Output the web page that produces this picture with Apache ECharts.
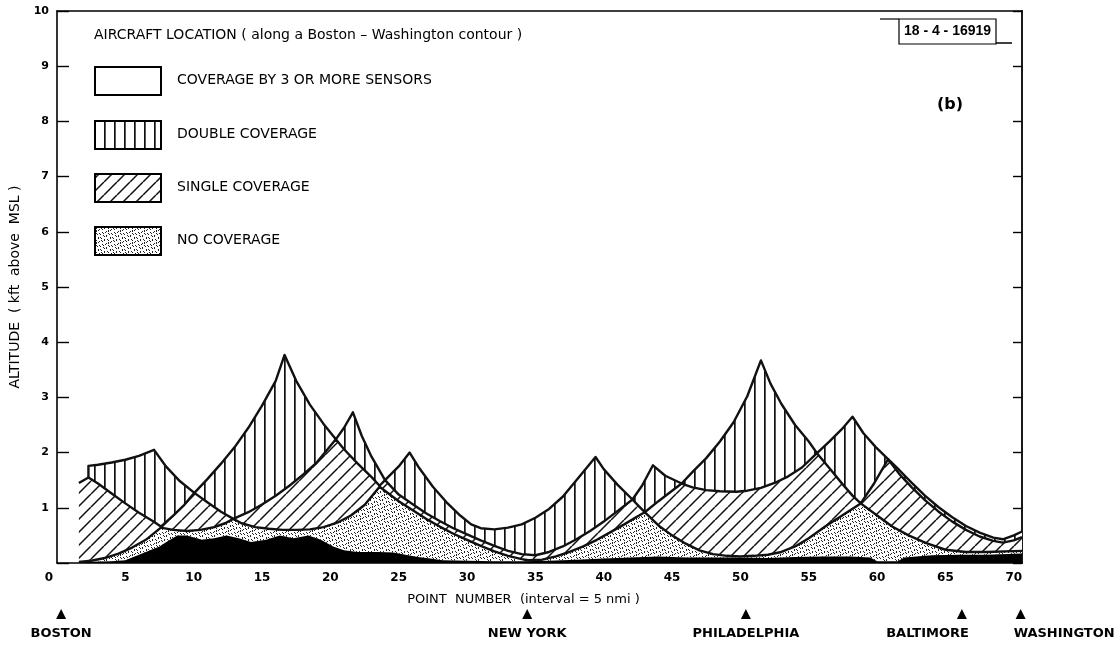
<!DOCTYPE html>
<html><head><meta charset="utf-8">
<script src="https://cdn.jsdelivr.net/npm/echarts@6/dist/echarts.min.js"></script>
<style>html,body{margin:0;padding:0;background:#fff}#c{width:1118px;height:653px}</style>
</head><body><div id="c"></div>
<script>
// ---------- DATA ----------
const xTickLabels = [0,5,10,15,20,25,30,35,40,45,50,55,60,65,70];
const yTickLabels = [1,2,3,4,5,6,7,8,9,10];

// ground profile (black)
const terrain = [[1.6,0.02],[4,0.03],[5,0.05],[6,0.15],[7,0.25],[7.5,0.3],[8,0.38],[8.8,0.5],[9.5,0.5],[10.6,0.42],[11.5,0.45],[12.4,0.5],[13.3,0.45],[14.2,0.38],[15.3,0.42],[16.3,0.5],[17.3,0.45],[18.4,0.5],[19.3,0.42],[20.2,0.3],[21,0.23],[22,0.2],[23.5,0.2],[24.6,0.19],[25.5,0.15],[26.4,0.11],[27.3,0.08],[28.2,0.05],[30,0.04],[32,0.03],[34,0.03],[36,0.04],[38,0.06],[40,0.08],[42,0.1],[44,0.12],[46,0.1],[48,0.1],[50,0.1],[52,0.09],[54,0.11],[56,0.12],[58,0.12],[59.5,0.1],[60,0.03],[61.5,0.03],[62,0.1],[64,0.14],[66,0.15],[68,0.15],[70.6,0.17]];

// lowest coverage altitude (top of NO COVERAGE)
const floor1 = [[1.6,0.02],[2.5,0.04],[3.5,0.09],[4.5,0.17],[5.5,0.28],[6.5,0.42],[7.6,0.64],[8.5,0.6],[9.5,0.58],[10.5,0.6],[11.5,0.65],[12.3,0.72],[12.9,0.8],[13.5,0.72],[14.5,0.65],[15.5,0.62],[16.5,0.6],[17.5,0.6],[18.5,0.61],[19.5,0.65],[20.5,0.73],[21.5,0.86],[22.5,1.05],[23.6,1.38],[24.3,1.25],[25,1.12],[26,0.96],[27,0.8],[28,0.66],[29,0.53],[30,0.42],[31,0.31],[32,0.21],[33,0.13],[34,0.07],[34.5,0.05],[35.5,0.06],[36.5,0.12],[37.5,0.2],[38.5,0.3],[39.5,0.42],[40.5,0.56],[41.5,0.7],[42.3,0.82],[43,0.92],[44,0.68],[45,0.5],[46,0.35],[47,0.23],[48,0.16],[49,0.13],[50,0.12],[51,0.13],[52,0.15],[53,0.2],[54,0.3],[55,0.45],[56.2,0.66],[57.5,0.87],[58.8,1.08],[60,0.86],[61.1,0.66],[62.3,0.5],[63.6,0.36],[65,0.24],[66.5,0.2],[68,0.2],[70.6,0.22]];

// floor of DOUBLE COVERAGE
const floor2 = [[1.6,1.45],[2.3,1.55],[3,1.44],[4,1.26],[5,1.08],[6,0.91],[7,0.76],[7.6,0.66],[8.5,0.86],[9.3,1.05],[10.05,1.27],[11,1.1],[12,0.93],[12.9,0.8],[14,0.92],[15,1.06],[16,1.22],[17,1.4],[18,1.6],[19,1.82],[20.4,2.24],[21,2.06],[22,1.8],[23,1.56],[23.6,1.4],[24,1.5],[25,1.24],[26,1.07],[27,0.9],[28,0.76],[29,0.63],[30,0.52],[31,0.41],[32,0.31],[33,0.22],[34,0.16],[35,0.14],[36,0.2],[37,0.3],[38,0.43],[39,0.58],[40,0.75],[41,0.94],[42.1,1.15],[42.6,1.02],[43,0.92],[44,1.12],[45,1.31],[45.7,1.44],[46.5,1.37],[47.5,1.32],[48.5,1.3],[49.7,1.29],[50.5,1.31],[51.5,1.36],[52.5,1.45],[53.5,1.57],[54.5,1.73],[55.6,1.99],[56.5,1.72],[57.5,1.42],[58.2,1.22],[58.8,1.08],[59.8,1.45],[60.8,1.88],[61.6,1.62],[62.5,1.38],[63.5,1.14],[64.5,0.93],[65.5,0.75],[66.5,0.6],[67.5,0.48],[68.5,0.4],[69.2,0.37],[70,0.41],[70.6,0.47]];

// floor of coverage by 3 or more sensors
const floor3 = [[2.3,1.55],[2.3,1.76],[3,1.78],[4,1.82],[5,1.87],[6,1.94],[7.1,2.05],[8,1.74],[9,1.48],[10.05,1.27],[11,1.52],[12,1.8],[13,2.1],[14,2.45],[15,2.85],[16,3.3],[16.65,3.77],[17.5,3.3],[18.5,2.87],[19.5,2.52],[20.4,2.24],[21,2.45],[21.65,2.73],[22.3,2.3],[23,1.93],[24,1.5],[25,1.75],[25.8,2.0],[26.5,1.72],[27.5,1.38],[28.5,1.1],[29.5,0.86],[30.3,0.7],[31,0.63],[32,0.61],[33,0.64],[34,0.7],[35,0.82],[36,0.98],[37,1.2],[38,1.5],[39.4,1.92],[40,1.7],[41,1.42],[42.1,1.15],[42.8,1.4],[43.6,1.77],[44.5,1.58],[45.7,1.44],[46.5,1.65],[47.5,1.9],[48.5,2.2],[49.5,2.55],[50.5,3.02],[51.5,3.67],[52.2,3.25],[53,2.88],[54,2.5],[55,2.2],[55.6,1.99],[56.5,2.2],[57.4,2.42],[58.2,2.65],[59,2.35],[59.9,2.1],[60.8,1.88],[61.6,1.69],[62.5,1.46],[63.5,1.22],[64.5,1.01],[65.5,0.83],[66.5,0.67],[67.5,0.55],[68.5,0.46],[69.2,0.43],[70,0.5],[70.6,0.57]];

const cityNames = ['BOSTON','NEW YORK','PHILADELPHIA','BALTIMORE','WASHINGTON'];
const cityPoints = [0.3,34.4,50.4,66.2,70.5];

const legendTitle = 'AIRCRAFT LOCATION ( along a Boston \u2013 Washington contour )';
const legendLabels = ['COVERAGE BY 3 OR MORE SENSORS','DOUBLE COVERAGE','SINGLE COVERAGE','NO COVERAGE'];
const panelTag = '(b)';
const figureId = '18 - 4 - 16919';
const xAxisTitle = 'POINT  NUMBER  (interval = 5 nmi )';
const yAxisTitle = 'ALTITUDE  ( kft  above  MSL )';

// ---------- STYLE ----------
const INK = '#000';
const FONT = '"DejaVu Sans", "Liberation Sans", sans-serif';
function makeCanvas(w,h,draw){const c=document.createElement('canvas');c.width=w;c.height=h;const g=c.getContext('2d');g.fillStyle='#fff';g.fillRect(0,0,w,h);draw(g,w,h);return c;}
const vertCanvas = makeCanvas(10,10,(g)=>{g.fillStyle='#111';g.fillRect(4,0,1.7,10);});
const diagCanvas = makeCanvas(13,13,(g,s)=>{g.strokeStyle='#111';g.lineWidth=1.5;g.beginPath();for(let k=-1;k<=1;k++){g.moveTo(k*s,s);g.lineTo(k*s+s,0);}g.stroke();});
const dotCanvas = makeCanvas(12,12,(g)=>{g.fillStyle='#222';for(let i=0;i<26;i++){const x=(i*7+Math.floor(i/3))%12;const y=(i*5+2*Math.floor(i/4))%12;g.fillRect(x,y,1,1);}});
const vertPat = {image:vertCanvas, repeat:'repeat'};
const diagPat = {image:diagCanvas, repeat:'repeat'};
const dotPat = {image:dotCanvas, repeat:'repeat'};

function region(upper, lower, fill, z){
  return {type:'custom', coordinateSystem:'cartesian2d', xAxisIndex:0, yAxisIndex:0, silent:true, z:z,
    data:[[0,0]], encode:{x:0,y:1},
    renderItem:function(params, api){
      const pts = upper.map(p=>api.coord(p)).concat(lower.slice().reverse().map(p=>api.coord(p)));
      return {type:'polygon', shape:{points:pts}, style:{fill:fill, stroke:null, lineWidth:0}};
    }};
}
function outline(data){
  return {type:'line', xAxisIndex:0, yAxisIndex:0, data:data, symbol:'none', silent:true, z:10,
    lineStyle:{color:'#111', width:2.4, join:'round'}, smooth:false};
}
const ground = [[terrain[0][0],0],[terrain[terrain.length-1][0],0]];

const cityLabelStyle = {
  'BALTIMORE': {align:'right', offset:[7,0]},
  'WASHINGTON': {align:'left', offset:[-7,0]}
};

const chart = echarts.init(document.getElementById('c'), null, {renderer:'canvas'});
const legendY = [67,121,174,227];
const graphics = [];
graphics.push({type:'text', left:94, top:28, style:{text:legendTitle, font:'14px '+FONT, fill:INK}});
const legendFills = ['#fff', vertPat, diagPat, dotPat];
legendLabels.forEach((t,i)=>{
  graphics.push({type:'rect', shape:{x:95,y:legendY[i],width:66,height:28}, style:{fill:legendFills[i], stroke:INK, lineWidth:2}});
  graphics.push({type:'text', left:177, top:legendY[i]+6, style:{text:t, font:'14px '+FONT, fill:INK}});
});
graphics.push({type:'text', left:937, top:97, style:{text:panelTag, font:'bold 16px '+FONT, fill:INK}});
graphics.push({type:'rect', shape:{x:899,y:19,width:97,height:25}, style:{fill:'#fff', stroke:INK, lineWidth:1.2}});
graphics.push({type:'text', x:947.5, y:31.5, style:{text:figureId, font:'bold 14px "Liberation Sans", sans-serif', fill:INK, align:'center', verticalAlign:'middle'}});
graphics.push({type:'line', shape:{x1:880,y1:19,x2:899,y2:19}, style:{stroke:INK, lineWidth:1.2}});
graphics.push({type:'line', shape:{x1:996,y1:43,x2:1012,y2:43}, style:{stroke:INK, lineWidth:1.5}});

const option = {
  animation:false,
  backgroundColor:'#fff',
  grid:[{left:57, right:96, top:11, bottom:90, show:false, containLabel:false, outerBoundsMode:'none'},
        {left:57, right:96, top:604, height:20, show:false, containLabel:false, outerBoundsMode:'none'}],
  xAxis:[
    {type:'value', gridIndex:0, min:0, max:70.6, interval:5, position:'bottom',
     axisLine:{show:true, onZero:false, lineStyle:{color:INK, width:1.6}},
     axisTick:{show:false}, splitLine:{show:false},
     axisLabel:{color:INK, fontFamily:FONT, fontWeight:'bold', fontSize:12, margin:9,
       formatter:v=> xTickLabels.indexOf(v)<0 ? '' : (v===0 ? '{z|0}' : String(v)),
       rich:{z:{padding:[0,16,0,0], fontWeight:'bold', fontSize:12, fontFamily:FONT, color:INK}}},
     name:xAxisTitle, nameLocation:'middle', nameGap:30,
     nameTextStyle:{color:INK, fontFamily:FONT, fontSize:13, padding:[0,32,0,0]}},
    {type:'value', gridIndex:0, min:0, max:70.6, position:'top',
     axisLine:{show:true, onZero:false, lineStyle:{color:INK, width:1.6}},
     axisTick:{show:false}, axisLabel:{show:false}, splitLine:{show:false}},
    {type:'value', gridIndex:1, min:0, max:70.6, show:false}
  ],
  yAxis:[
    {type:'value', gridIndex:0, min:0, max:10, interval:1, position:'left',
     axisLine:{show:true, onZero:false, lineStyle:{color:INK, width:1.6}},
     axisTick:{show:true, inside:true, length:12, lineStyle:{color:INK, width:1.4}},
     splitLine:{show:false},
     axisLabel:{color:INK, fontFamily:FONT, fontWeight:'bold', fontSize:11, margin:8,
       formatter:v=> yTickLabels.indexOf(v)<0 ? '' : String(v)},
     name:yAxisTitle, nameLocation:'middle', nameGap:35,
     nameTextStyle:{color:INK, fontFamily:FONT, fontSize:14}},
    {type:'value', gridIndex:0, min:0, max:10, interval:1, position:'right',
     axisLine:{show:true, onZero:false, lineStyle:{color:INK, width:1.8}},
     axisTick:{show:true, inside:true, length:9, lineStyle:{color:INK, width:1.4}},
     axisLabel:{show:false}, splitLine:{show:false}},
    {type:'value', gridIndex:1, min:0, max:1, show:false}
  ],
  graphic:graphics,
  series:[
    region(terrain, ground, '#000', 4),
    region(floor1, terrain, dotPat, 3),
    region(floor2, floor1, diagPat, 2),
    region(floor3, floor2, vertPat, 1),
    outline(floor1), outline(floor2), outline(floor3),
    {type:'scatter', xAxisIndex:2, yAxisIndex:2, symbol:'triangle', symbolSize:[10,10], silent:true,
     itemStyle:{color:INK, opacity:1},
     data:cityNames.map((n,i)=>({name:n, value:[cityPoints[i],0.5],
       label:Object.assign({show:true, position:'bottom', distance:8, formatter:n,
         color:INK, fontFamily:FONT, fontSize:13, fontWeight:'bold'}, cityLabelStyle[n]||{})}))}
  ]
};
chart.setOption(option);
</script></body></html>
